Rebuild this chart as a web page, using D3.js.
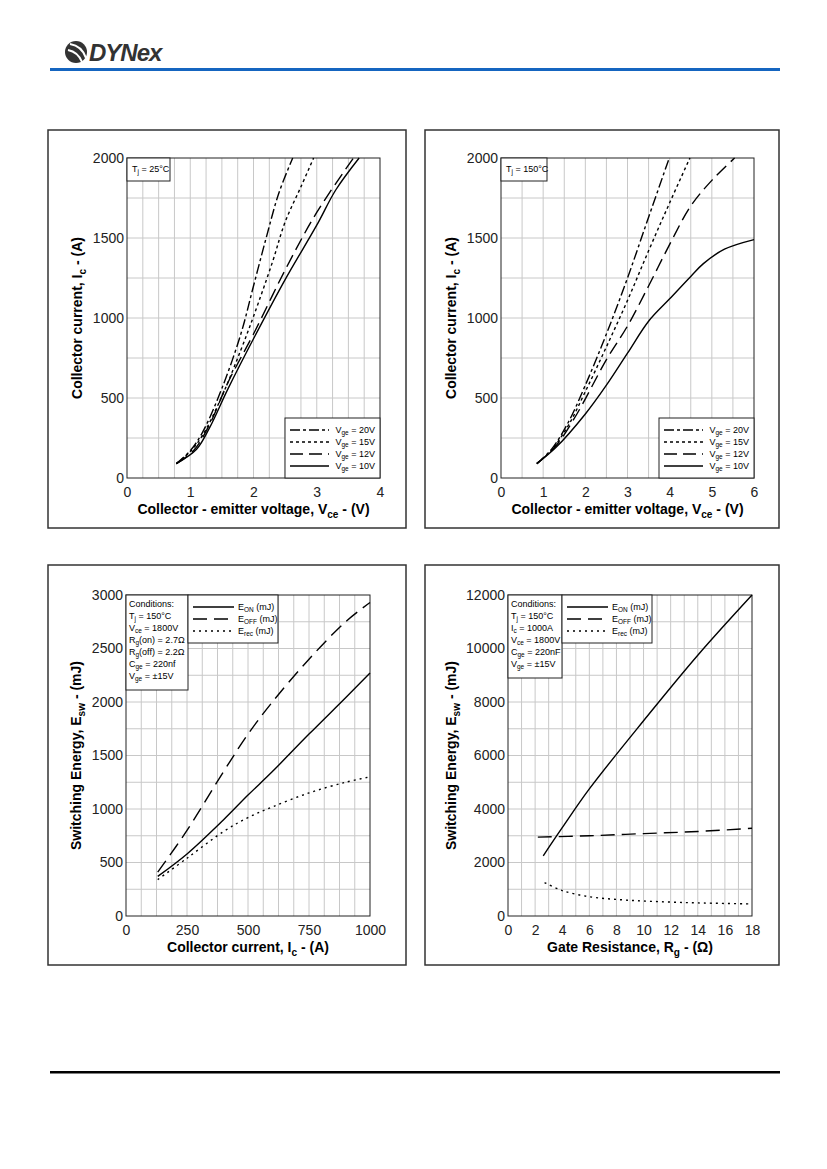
<!DOCTYPE html>
<html><head><meta charset="utf-8">
<script src="https://cdn.jsdelivr.net/npm/d3@7"></script>
<style>body{margin:0;background:#fff}svg{font-family:'Liberation Sans',Arial,sans-serif}</style>
</head><body>
<svg id="c" width="827" height="1169"></svg>
<script>
'use strict';

/* ── data ─────────────────────────────── */
const vge = ['20V', '15V', '12V', '10V'];
const ic25 = [
  [[0.78,90],[1.0,170],[1.2,290],[1.5,560],[1.8,900],[2.0,1200],[2.2,1500],[2.4,1780],[2.62,2000]],
  [[0.78,90],[1.0,165],[1.2,270],[1.5,510],[1.8,800],[2.0,1010],[2.3,1350],[2.5,1600],[2.75,1820],[2.95,2000]],
  [[0.78,90],[1.05,170],[1.3,330],[1.6,600],[2.0,900],[2.5,1300],[3.0,1660],[3.58,2000]],
  [[0.78,90],[1.1,180],[1.3,310],[1.6,560],[2.0,870],[2.5,1240],[3.0,1580],[3.3,1800],[3.67,2000]]
];
const ic150 = [
  [[0.85,90],[1.2,180],[1.6,350],[2.0,580],[2.5,900],[3.0,1250],[3.5,1630],[3.99,2000]],
  [[0.85,90],[1.2,175],[1.6,330],[2.0,540],[2.5,820],[3.0,1110],[3.5,1420],[4.0,1720],[4.48,2000]],
  [[0.85,90],[1.3,200],[1.8,400],[2.5,740],[3.0,950],[3.5,1200],[4.0,1460],[4.5,1700],[5.0,1860],[5.54,2000]],
  [[0.85,90],[1.3,190],[2.0,400],[2.5,580],[3.0,780],[3.5,980],[4.0,1120],[4.5,1260],[4.8,1340],[5.3,1430],[6.0,1490]]
];
const eVsIc = [
  [[130,370],[250,580],[400,900],[500,1130],[600,1350],[750,1700],[900,2040],[1000,2270]],
  [[130,410],[250,800],[400,1350],[500,1700],[600,2000],[750,2400],[900,2750],[1000,2930]],
  [[130,340],[250,540],[400,790],[500,920],[600,1020],[750,1150],[900,1250],[1000,1300]]
];
const eVsRg = [
  [[2.6,2250],[4,3300],[6,4750],[10,7300],[14,9750],[18,12000]],
  [[2.2,2950],[6,3000],[10,3080],[14,3160],[18,3280]],
  [[2.7,1250],[4,950],[6,720],[8,620],[10,560],[12,520],[14,490],[18,450]]
];
const eNames = [['E','ON',' (mJ)'],['E','OFF',' (mJ)'],['E','rec',' (mJ)']];
const condIc = [['Conditions:'],['T','j',' = 150°C'],['V','ce',' = 1800V'],['R','g','(on) = 2.7Ω'],['R','g','(off) = 2.2Ω'],['C','ge',' = 220nf'],['V','ge',' = ±15V']];
const condRg = [['Conditions:'],['T','j',' = 150°C'],['I','c',' = 1000A'],['V','ce',' = 1800V'],['C','ge',' = 220nF'],['V','ge',' = ±15V']];

const vgeDash = ['10,3,3,3', '3,3', '13,6', null];
const eDash = [null, '14,7', '2,4'];

const svg = d3.select('#c');

/* ── header / footer ───────────────────── */
const logo = svg.append('g');
logo.append('circle').attr('cx', 76).attr('cy', 52).attr('r', 11).attr('fill', '#333');
logo.append('path').attr('d', 'M70,44 Q82,46 86,58 M68,50 Q78,52 82,62').attr('stroke', '#fff').attr('stroke-width', 2).attr('fill', 'none');
logo.append('text').attr('x', 89).attr('y', 61).attr('font-size', 24).attr('font-weight', 900)
  .attr('font-style', 'italic').attr('fill', '#333').attr('letter-spacing', -1).text('DYNex');
svg.append('rect').attr('x', 50).attr('y', 68).attr('width', 730).attr('height', 3).attr('fill', '#1565c0');
svg.append('rect').attr('x', 50).attr('y', 1071).attr('width', 730).attr('height', 2.5).attr('fill', '#000');

/* ── helpers ───────────────────────────── */
function sub(t, parts, size) {
  t.append('tspan').text(parts[0]);
  if (parts.length > 1) {
    t.append('tspan').attr('font-size', size * 0.72).attr('dy', size * 0.25).text(parts[1]);
    t.append('tspan').attr('dy', -size * 0.25).text(parts[2]);
  }
}

function panel(o) {
  const g = svg.append('g');
  g.append('rect').attr('x', o.frame[0]).attr('y', o.frame[1]).attr('width', o.frame[2] - o.frame[0])
    .attr('height', o.frame[3] - o.frame[1]).attr('fill', 'none').attr('stroke', '#333').attr('stroke-width', 1.5);
  const [x0, y0, x1, y1] = o.plot;
  const x = d3.scaleLinear().domain(o.xd).range([x0, x1]);
  const y = d3.scaleLinear().domain(o.yd).range([y1, y0]);

  // grid
  g.append('g').selectAll('line').data(d3.range(1, o.xn)).join('line')
    .attr('x1', i => x(o.xd[0] + i * (o.xd[1] - o.xd[0]) / o.xn)).attr('x2', i => x(o.xd[0] + i * (o.xd[1] - o.xd[0]) / o.xn))
    .attr('y1', y0).attr('y2', y1).attr('stroke', '#c8c8c8');
  g.append('g').selectAll('line').data(d3.range(1, o.yn)).join('line')
    .attr('y1', i => y(i * o.yd[1] / o.yn)).attr('y2', i => y(i * o.yd[1] / o.yn))
    .attr('x1', x0).attr('x2', x1).attr('stroke', '#c8c8c8');
  g.append('rect').attr('x', x0).attr('y', y0).attr('width', x1 - x0).attr('height', y1 - y0)
    .attr('fill', 'none').attr('stroke', '#222').attr('stroke-width', 1);

  // axes
  const ax = g.append('g').attr('transform', `translate(0,${y1})`)
    .call(d3.axisBottom(x).tickValues(o.xt).tickSize(0).tickPadding(9).tickFormat(d3.format('d')));
  const ay = g.append('g').attr('transform', `translate(${x0},0)`)
    .call(d3.axisLeft(y).tickValues(o.yt).tickSize(0).tickPadding(3).tickFormat(d3.format('d')));
  [ax, ay].forEach(a => { a.select('.domain').remove(); a.selectAll('text').attr('font-size', 14).attr('fill', '#222').attr('font-family', "'Liberation Sans',Arial"); });

  // titles
  const xt = g.append('text').attr('x', (x0 + x1) / 2).attr('y', y1 + 36).attr('text-anchor', 'middle')
    .attr('font-size', 14).attr('font-weight', 'bold');
  o.xTitle.forEach(p => sub(xt, p, 14));
  const yt = g.append('text').attr('transform', `translate(${o.yTitleX},${(y0 + y1) / 2}) rotate(-90)`)
    .attr('text-anchor', 'middle').attr('font-size', 14).attr('font-weight', 'bold');
  o.yTitle.forEach(p => sub(yt, p, 14));

  // curves
  const line = d3.line().x(d => x(d[0])).y(d => y(d[1])).curve(d3.curveCatmullRom.alpha(0.5));
  g.append('g').selectAll('path').data(o.series).join('path')
    .attr('d', line).attr('fill', 'none').attr('stroke', '#000').attr('stroke-width', 1.4)
    .attr('stroke-dasharray', (d, i) => o.dash[i]);

  return { g, x, y };
}

function box(g, x, y, w, h) {
  g.append('rect').attr('x', x).attr('y', y).attr('width', w).attr('height', h)
    .attr('fill', '#fff').attr('stroke', '#222').attr('stroke-width', 1);
}

function vgeLegend(g, px, py) {
  box(g, px, py, 95, 60);
  vge.forEach((v, i) => {
    const yy = py + 12 + i * 12;
    g.append('line').attr('x1', px + 5).attr('x2', px + 44).attr('y1', yy).attr('y2', yy)
      .attr('stroke', '#000').attr('stroke-width', 1.4).attr('stroke-dasharray', vgeDash[i]);
    const t = g.append('text').attr('x', px + 90).attr('y', yy + 3).attr('text-anchor', 'end').attr('font-size', 9);
    sub(t, ['V', 'ge', ' = ' + v], 9);
  });
}

function tjBox(g, px, py, w, tj) {
  box(g, px, py, w, 23);
  const t = g.append('text').attr('x', px + 5).attr('y', py + 14).attr('font-size', 9);
  sub(t, ['T', 'j', ' = ' + tj], 9);
}

function condBox(g, px, py, w, h, rows) {
  box(g, px, py, w, h);
  rows.forEach((r, i) => {
    const t = g.append('text').attr('x', px + 3).attr('y', py + 12 + i * 12).attr('font-size', 9);
    sub(t, r, 9);
  });
}

function eLegend(g, px, py) {
  box(g, px, py, 90, 48);
  eNames.forEach((n, i) => {
    const yy = py + 12 + i * 12;
    g.append('line').attr('x1', px + 5).attr('x2', px + 46).attr('y1', yy).attr('y2', yy)
      .attr('stroke', '#000').attr('stroke-width', 1.4).attr('stroke-dasharray', eDash[i]);
    const t = g.append('text').attr('x', px + 50).attr('y', yy + 3).attr('font-size', 9);
    sub(t, n, 9);
  });
}

/* ── panels ────────────────────────────── */
const vceTitle = [['Collector - emitter voltage, V', 'ce', ' - (V)']];
const icTitle = [['Collector current, I', 'c', ' - (A)']];
const eswTitle = [['Switching Energy, E', 'sw', ' - (mJ)']];

const p1 = panel({ frame: [48, 130, 406, 528], plot: [127, 158, 380, 478], xd: [0, 4], yd: [0, 2000], xn: 16, yn: 8,
  xt: [0, 1, 2, 3, 4], yt: [0, 500, 1000, 1500, 2000], xTitle: vceTitle, yTitle: icTitle, yTitleX: 82,
  series: ic25, dash: vgeDash });
tjBox(p1.g, 127, 158, 43, '25°C');
vgeLegend(p1.g, 285, 418);

const p2 = panel({ frame: [425, 130, 779, 528], plot: [501, 158, 754, 478], xd: [0, 6], yd: [0, 2000], xn: 12, yn: 8,
  xt: [0, 1, 2, 3, 4, 5, 6], yt: [0, 500, 1000, 1500, 2000], xTitle: vceTitle, yTitle: icTitle, yTitleX: 456,
  series: ic150, dash: vgeDash });
tjBox(p2.g, 501, 158, 46, '150°C');
vgeLegend(p2.g, 659, 418);

const p3 = panel({ frame: [48, 565, 406, 965], plot: [126, 595, 370, 916], xd: [0, 1000], yd: [0, 3000], xn: 16, yn: 12,
  xt: [0, 250, 500, 750, 1000], yt: d3.range(0, 3001, 500), xTitle: icTitle, yTitle: eswTitle, yTitleX: 81,
  series: eVsIc, dash: eDash });
condBox(p3.g, 126, 595, 62, 95, condIc);
eLegend(p3.g, 188, 595);

const p4 = panel({ frame: [425, 565, 779, 965], plot: [508, 595, 752, 916], xd: [0, 18], yd: [0, 12000], xn: 18, yn: 12,
  xt: d3.range(0, 19, 2), yt: d3.range(0, 12001, 2000), xTitle: [['Gate Resistance, R', 'g', ' - (Ω)']], yTitle: eswTitle, yTitleX: 456,
  series: eVsRg, dash: eDash });
condBox(p4.g, 508, 595, 54, 83, condRg);
eLegend(p4.g, 562, 595);
</script>
</body></html>
